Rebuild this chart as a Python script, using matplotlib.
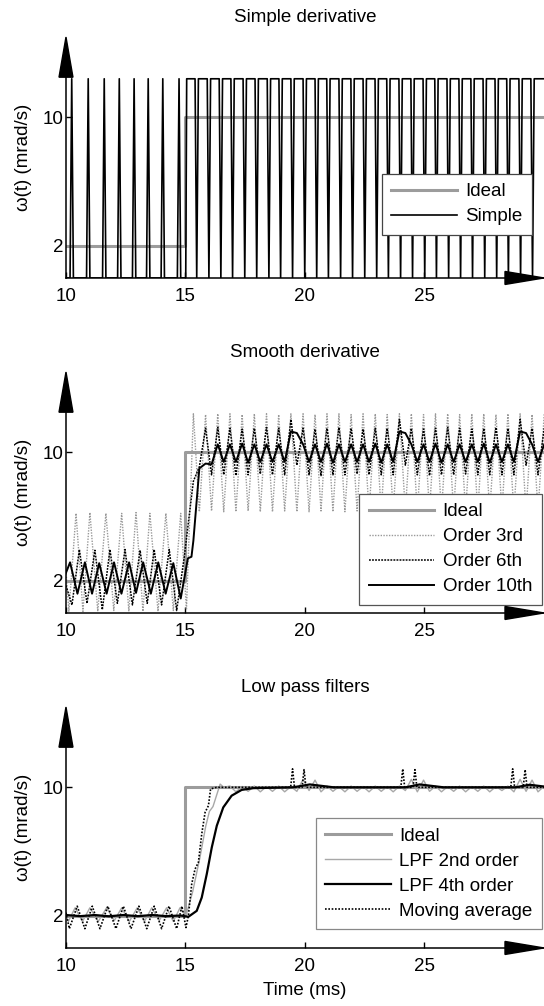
import matplotlib.pyplot as plt
from matplotlib.patches import Polygon

plt.rcParams['font.family'] = ['Liberation Sans', 'DejaVu Sans']
plt.rcParams['font.size'] = 13.5

# ---------------- data ----------------
ideal_t = [10, 15, 15, 30]
ideal_v = [2, 2, 10, 10]

# simple derivative: level of the pulses, spikes before the step, dips after it
simple_high = 12.4
simple_spike_t = [10.24, 10.93, 11.60, 12.23, 12.85, 13.44, 14.05, 14.73]
simple_rise_t = 15.05
simple_dip_t = [15.47, 15.98, 16.48, 16.97, 17.48, 17.98, 18.49, 18.98, 19.48, 19.99,
                20.49, 20.98, 21.49, 21.99, 22.50, 23.00, 23.49, 24.00, 24.50, 25.01,
                25.50, 26.01, 26.51, 27.01, 27.52, 28.02, 28.51, 29.02, 29.52]

# smooth derivative, shared times of the extremes after the step
t2_peak = [15.33, 15.84, 16.35, 16.86, 17.37, 17.88, 18.39, 18.90, 19.41, 19.92,
           20.42, 20.92, 21.42, 21.93, 22.43, 22.94, 23.44, 23.95, 24.45, 24.96,
           25.46, 25.97, 26.47, 26.98, 27.48, 27.99, 28.49, 29.00, 29.50, 30.01]
t2_trough = [15.58, 16.09, 16.60, 17.11, 17.62, 18.13, 18.64, 19.15, 19.66, 20.17,
             20.67, 21.17, 21.67, 22.18, 22.68, 23.19, 23.69, 24.20, 24.70, 25.21,
             25.71, 26.22, 26.72, 27.23, 27.73, 28.24, 28.74, 29.25, 29.75]

# order 3rd
o3_pre_t = [10.0, 10.12, 10.42, 10.71, 11.00, 11.33, 11.67, 12.00, 12.33, 12.63,
            12.93, 13.22, 13.51, 13.85, 14.18, 14.49, 14.80, 15.04]
o3_pre_v = [2.6, 0.1, 6.2, 0.1, 6.25, 0.1, 6.2, 0.15, 6.2, 0.1,
            6.25, 0.1, 6.2, 0.1, 6.2, 0.15, 6.2, 0.2]
o3_peak_v = [12.4, 12.35, 12.4, 12.4, 12.35, 12.4, 12.4, 12.35, 12.4, 12.4,
             12.35, 12.4, 12.4, 12.35, 12.4, 12.4, 12.35, 12.4, 12.4, 12.35,
             12.4, 12.4, 12.35, 12.4, 12.4, 12.35, 12.4, 12.4, 12.35, 12.4]
o3_trough_v = [6.3, 6.35, 6.3, 6.3, 6.35, 6.3, 6.3, 6.35, 6.3, 6.3,
               6.35, 6.3, 6.3, 6.35, 6.3, 6.3, 6.35, 6.3, 6.3, 6.35,
               6.3, 6.3, 6.35, 6.3, 6.3, 6.35, 6.3, 6.3, 6.35]

# order 6th
o6_pre_t = [10.0, 10.25, 10.56, 10.88, 11.21, 11.52, 11.84, 12.15, 12.47, 12.78,
            13.10, 13.40, 13.69, 14.00, 14.32, 14.63, 14.95, 15.15]
o6_pre_v = [1.7, 0.5, 3.95, 0.6, 3.9, 0.2, 3.95, 0.6, 3.95, 0.5,
            3.9, 0.6, 3.95, 0.5, 3.95, 0.15, 3.5, 6.0]
o6_peak_v = [8.2, 11.5, 11.55, 11.5, 11.45, 11.5, 11.55, 11.5, 12.05, 11.5,
             11.45, 11.5, 11.55, 11.5, 11.45, 11.5, 11.5, 12.05, 11.5, 11.45,
             11.5, 11.55, 11.5, 11.45, 11.5, 11.55, 11.5, 12.05, 11.5, 11.5]
o6_trough_v = [9.1, 8.6, 8.6, 8.55, 8.6, 8.65, 8.6, 8.6, 9.2, 8.6,
               8.55, 8.6, 8.6, 8.65, 8.6, 8.6, 8.6, 9.2, 8.6, 8.55,
               8.6, 8.6, 8.65, 8.6, 8.6, 8.6, 8.6, 9.2, 8.6]

# order 10th
o10_pre_t = [10.0, 10.17, 10.48, 10.79, 11.09, 11.39, 11.70, 12.01, 12.32, 12.64,
             12.93, 13.23, 13.55, 13.86, 14.17, 14.49, 14.80, 15.10, 15.25]
o10_pre_v = [2.5, 3.15, 1.2, 3.15, 1.2, 3.1, 1.2, 3.15, 1.2, 3.15,
             1.25, 3.15, 1.2, 3.15, 1.2, 3.1, 0.9, 3.4, 3.5]
o10_peak_v = [4.5, 9.3, 10.5, 10.5, 10.55, 10.5, 10.5, 10.5, 11.3, 10.5,
              10.5, 10.55, 10.5, 10.5, 10.5, 10.55, 10.5, 11.3, 10.5, 10.5,
              10.55, 10.5, 10.5, 10.5, 10.55, 10.5, 10.5, 11.3, 10.5, 10.5]
o10_trough_v = [9.0, 9.25, 9.4, 9.4, 9.35, 9.4, 9.4, 9.4, 11.2, 9.4,
                9.4, 9.35, 9.4, 9.4, 9.4, 9.35, 9.4, 11.2, 9.4, 9.4,
                9.35, 9.4, 9.4, 9.4, 9.35, 9.4, 9.4, 11.2, 9.4]

# low pass filters
lpf2_t = [10.0, 10.10, 10.38, 10.69, 11.00, 11.35, 11.70, 12.02, 12.33, 12.65,
          12.98, 13.28, 13.59, 13.90, 14.21, 14.49, 14.77, 15.02, 15.30, 15.60,
          15.85, 16.00, 16.15, 16.30, 16.45, 16.60]
lpf2_v = [2.0, 1.65, 2.5, 1.65, 2.5, 1.65, 2.5, 1.7, 2.5, 1.65,
          2.5, 1.65, 2.5, 1.7, 2.5, 1.65, 2.5, 2.0, 3.5, 5.6,
          7.6, 8.5, 8.8, 9.5, 10.2, 10.0]
# ripple after 16.8 ms, on the shared extreme times (from the 4th peak on)
lpf2_peak_v = [10.08, 10.05, 10.08, 10.05, 10.08, 10.05, 10.5, 10.45, 10.08,
               10.05, 10.08, 10.05, 10.08, 10.05, 10.08, 10.5, 10.45, 10.08,
               10.05, 10.08, 10.05, 10.08, 10.05, 10.08, 10.5, 10.45, 10.08]
lpf2_trough_v = [9.72, 9.75, 9.72, 9.75, 9.72, 9.75, 9.8, 9.72, 9.75, 9.72,
                 9.75, 9.72, 9.75, 9.72, 9.8, 9.72, 9.75, 9.72, 9.75, 9.72,
                 9.75, 9.72, 9.8, 9.72, 9.75, 9.72]

lpf4_t = [10.0, 10.6, 11.2, 11.8, 12.4, 13.0, 13.6, 14.2, 14.8, 15.12,
          15.47, 15.68, 15.89, 16.10, 16.31, 16.58, 16.93, 17.35, 17.84, 19.5,
          20.2, 21.2, 24.2, 24.8, 25.8, 28.8, 29.4, 30.0]
lpf4_v = [2.05, 1.98, 2.05, 1.97, 2.05, 1.98, 2.05, 1.98, 2.02, 1.94,
          2.31, 3.14, 4.6, 6.26, 7.61, 8.75, 9.48, 9.84, 9.95, 10.0,
          10.18, 10.0, 10.0, 10.18, 10.0, 10.0, 10.16, 10.05]

ma_t = [10.0, 10.14, 10.47, 10.79, 11.10, 11.42, 11.75, 12.09, 12.40, 12.72,
        13.05, 13.38, 13.69, 14.00, 14.31, 14.63, 14.85, 15.02, 15.12, 15.26,
        15.40, 15.54, 15.68, 15.82, 15.96, 16.05, 16.30]
ma_v = [2.2, 1.2, 2.6, 1.2, 2.6, 1.2, 2.6, 1.2, 2.6, 1.2,
        2.6, 1.2, 2.6, 1.2, 2.6, 1.2, 2.6, 1.27, 2.0, 3.98,
        4.91, 5.33, 7.1, 8.44, 8.86, 9.9, 10.0]
ma_level = 10.0
ma_spike_t = [19.48, 19.96, 24.09, 24.60, 28.69, 29.21]
ma_spike_v = [11.15, 11.1, 11.15, 11.1, 11.15, 11.1]


def interleave(a, b):
    out = []
    for i, x in enumerate(a):
        out.append(x)
        if i < len(b):
            out.append(b[i])
    return out


t2_post = interleave(t2_peak, t2_trough)

# simple derivative path
simple_t, simple_v = [10.0], [0.0]
for t in simple_spike_t:
    simple_t += [t - 0.07, t, t + 0.07]
    simple_v += [0, simple_high, 0]
simple_t += [simple_rise_t - 0.04, simple_rise_t]
simple_v += [0, simple_high]
for t in simple_dip_t:
    simple_t += [t - 0.07, t, t + 0.07]
    simple_v += [simple_high, 0, simple_high]
simple_t.append(30.0)
simple_v.append(simple_high)

o3_t = o3_pre_t + t2_post
o3_v = o3_pre_v + interleave(o3_peak_v, o3_trough_v)
o6_t = o6_pre_t + t2_post
o6_v = o6_pre_v + interleave(o6_peak_v, o6_trough_v)
o10_t = o10_pre_t + t2_post
o10_v = o10_pre_v + interleave(o10_peak_v, o10_trough_v)

lpf2_all_t = lpf2_t + t2_post[6:]
lpf2_all_v = lpf2_v + interleave(lpf2_peak_v, lpf2_trough_v)

ma_all_t, ma_all_v = list(ma_t), list(ma_v)
for t, v in zip(ma_spike_t, ma_spike_v):
    ma_all_t += [t - 0.08, t, t + 0.08]
    ma_all_v += [ma_level, v, ma_level]
ma_all_t.append(30.0)
ma_all_v.append(ma_level)

# ---------------- figure ----------------
GRAY = '#9c9c9c'
fig = plt.figure(figsize=(5.44, 10.06), dpi=100)
bottoms = [0.7237, 0.3907, 0.0577]
axes = [fig.add_axes([0.1213, b, 0.8787, 0.2395]) for b in bottoms]


def style(ax, title):
    ax.set_xlim(10, 30)
    ax.set_ylim(0, 15)
    ax.set_xticks([10, 15, 20, 25])
    ax.set_yticks([2, 10])
    ax.tick_params(direction='in', length=4, width=1)
    ax.tick_params(axis='x', pad=7)
    ax.tick_params(axis='y', pad=2)
    for s in ['top', 'right']:
        ax.spines[s].set_visible(False)
    ax.spines['left'].set_bounds(0, 12.5)
    ax.spines['left'].set_linewidth(1.1)
    ax.spines['bottom'].set_linewidth(1.1)
    ax.set_title(title, fontsize=13.5, pad=10.5)
    ax.set_ylabel('ω(t) (mrad/s)')
    ax.yaxis.set_label_coords(-0.072, 0.5)
    # arrow heads on the axes
    ax.add_patch(Polygon([[-0.0146, 0.8333], [0.0146, 0.8333], [0, 1.0]], closed=True,
                         transform=ax.transAxes, color='black', clip_on=False, zorder=10))
    ax.add_patch(Polygon([[0.9184, -0.027], [0.9184, 0.027], [1.0, 0]], closed=True,
                         transform=ax.transAxes, color='black', clip_on=False, zorder=10))


leg_kw = dict(loc='upper right', fancybox=False, framealpha=1, handlelength=3.5,
              handletextpad=0.45, labelspacing=0.42, borderpad=0.5, borderaxespad=0,
              fontsize=13.5)

ax = axes[0]
ax.plot(ideal_t, ideal_v, color=GRAY, lw=2.2, label='Ideal')
ax.plot(simple_t, simple_v, color='black', lw=1.2, solid_joinstyle='round', label='Simple')
style(ax, 'Simple derivative')
lg = ax.legend(bbox_to_anchor=(0.975, 0.4315), **leg_kw)
lg.get_frame().set_edgecolor('#444444')
lg.get_frame().set_linewidth(0.9)

ax = axes[1]
ax.plot(ideal_t, ideal_v, color=GRAY, lw=2.2, label='Ideal')
ax.plot(o3_t, o3_v, color='#999999', lw=1.0, ls=(0, (1, 1)), label='Order 3rd')
ax.plot(o6_t, o6_v, color='black', lw=1.1, ls=(0, (1.2, 0.8)), label='Order 6th')
ax.plot(o10_t, o10_v, color='black', lw=1.4, label='Order 10th')
style(ax, 'Smooth derivative')
lg = ax.legend(bbox_to_anchor=(0.995, 0.4938), **leg_kw)
lg.get_frame().set_edgecolor('#555555')
lg.get_frame().set_linewidth(0.9)

ax = axes[2]
ax.plot(ideal_t, ideal_v, color=GRAY, lw=2.2, label='Ideal')
ax.plot(lpf2_all_t, lpf2_all_v, color='#a8a8a8', lw=1.0, label='LPF 2nd order')
ax.plot(lpf4_t, lpf4_v, color='black', lw=1.6, label='LPF 4th order')
ax.plot(ma_all_t, ma_all_v, color='black', lw=1.2, ls=(0, (1, 1)), label='Moving average')
style(ax, 'Low pass filters')
ax.set_xlabel('Time (ms)', labelpad=5)
lg = ax.legend(bbox_to_anchor=(0.996, 0.539), **leg_kw)
lg.get_frame().set_edgecolor('#888888')
lg.get_frame().set_linewidth(0.9)

fig.savefig('out.png', dpi=100)
